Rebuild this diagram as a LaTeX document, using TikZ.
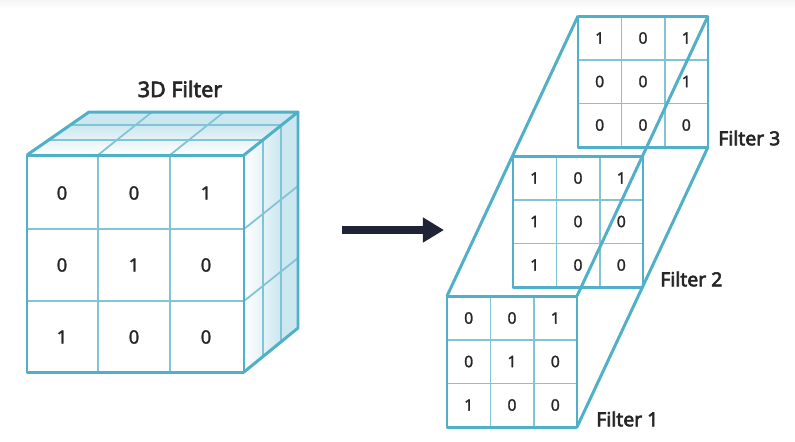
\documentclass[tikz,border=0pt]{standalone}
\usepackage{fontspec}
\setmainfont{Noto Sans}
\newfontfamily\labelfont[RawFeature={embolden=3}]{Noto Sans}
\newfontfamily\digitfont[RawFeature={embolden=1.5}]{Noto Sans}
\usetikzlibrary{arrows.meta}
\definecolor{C0}{RGB}{ 80,176,199}
\definecolor{C1}{RGB}{128,196,213}
\definecolor{C2}{RGB}{204,231,240}
\definecolor{C3}{RGB}{ 32, 35, 54}

\tikzset{
    outerline/.style={C0, line width=1.7pt, line join=round},
    innerline/.style={C1, line width=1pt},
    bigdigit/.style={font=\digitfont\fontsize{10.5}{12}\selectfont, text=black!85},
    smalldigit/.style={font=\digitfont\fontsize{9}{11}\selectfont, text=black!85},
    filterlabel/.style={font=\labelfont\fontsize{11}{13}\selectfont, text=black!85, anchor=west, inner sep=0pt}
}

%% one flat filter: name, left, top, nine digits
\newcommand{\filterbox}[4]{
    \coordinate (#1TL) at (#2, #3);
    \coordinate (#1TR) at (#2+130, #3);
    \coordinate (#1BR) at (#2+130, #3+131);
    \foreach \k in {1,2} {
        \draw[innerline] (#2+43.5*\k, #3) -- (#2+43.5*\k, #3+131);
        \draw[innerline] (#2, #3+43.7*\k) -- (#2+130, #3+43.7*\k);
    }
    \draw[outerline] (#2, #3) rectangle (#2+130, #3+131);
    \foreach \val [count=\n from 0] in {#4} {
        \pgfmathsetmacro{\cx}{#2+21.7+43.3*mod(\n,3)}
        \pgfmathsetmacro{\cy}{#3+22+43.5*int(\n/3)}
        \node[smalldigit] (#1d\n) at (\cx, \cy) {\val};
    }
}

\begin{document}
\begin{tikzpicture}[x=0.02cm, y=-0.02cm]
    \useasboundingbox (0, 0) rectangle (795, 441);

    %% faint band along the top edge
    \shade[top color=black!4, bottom color=white] (0, 0) rectangle (795, 9);

    %% --- Cube: shaded faces ---
    \shade[top color=C2, bottom color=white] (27, 155) -- (71, 125) -- (281, 125) -- (244, 155) -- cycle;
    \fill[C2] (71, 125) -- (89, 112) -- (298, 112) -- (281, 125) -- cycle;
    \shade[left color=white, right color=C2] (244, 155) -- (281, 125) -- (281, 342) -- (244, 372) -- cycle;
    \fill[C2] (281, 125) -- (298, 112) -- (298, 328) -- (281, 342) -- cycle;

    %% Grid on the top face
    \draw[innerline] (50, 140) -- (263, 140);
    \draw[innerline] (71, 125) -- (281, 125);
    \draw[innerline] (98, 155) -- (152, 112);
    \draw[innerline] (170, 155) -- (224, 112);

    %% Grid on the side face
    \draw[innerline] (263, 140) -- (263, 356);
    \draw[innerline] (281, 125) -- (281, 342);
    \draw[innerline] (244, 229) -- (298, 186);
    \draw[innerline] (244, 301) -- (298, 258);

    %% Grid on the front face
    \draw[innerline] (98, 155) -- (98, 372);
    \draw[innerline] (170, 155) -- (170, 372);
    \draw[innerline] (27, 229) -- (244, 229);
    \draw[innerline] (27, 301) -- (244, 301);

    %% Cube outline
    \draw[outerline] (27, 155) rectangle (244, 372);
    \draw[outerline] (27, 155) -- (89, 112) -- (298, 112) -- (244, 155);
    \draw[outerline] (298, 112) -- (298, 328) -- (244, 372);

    %% Cube digits
    \foreach \val [count=\n from 0] in {0,0,1,0,1,0,1,0,0} {
        \pgfmathsetmacro{\cx}{62+72*mod(\n,3)}
        \pgfmathsetmacro{\cy}{193+72*int(\n/3)}
        \node[bigdigit] (cube\n) at (\cx, \cy) {\val};
    }

    \node[font=\labelfont\fontsize{12.2}{14}\selectfont, text=black!85] (cubetitle) at (180, 89) {3D Filter};

    %% --- Arrow ---
    \coordinate (arrowA) at (342, 230);
    \coordinate (arrowB) at (444, 230);
    \draw[C3, line width=4.8pt, -{Stealth[length=12pt, width=13.5pt, inset=0pt]}] (arrowA) -- (arrowB);

    %% --- Three flat filters, back to front ---
    \filterbox{third}{578}{16}{1,0,1,0,0,1,0,0,0}
    \filterbox{second}{513}{156}{1,0,1,1,0,0,1,0,0}
    \filterbox{first}{447}{296}{0,0,1,0,1,0,1,0,0}

    %% Lines that join the filters
    \draw[outerline] (firstTL) -- (thirdTL);
    \draw[outerline] (firstTR) -- (thirdTR);
    \draw[outerline] (firstBR) -- (thirdBR);

    \node[filterlabel] (labelthird) at (718, 138) {Filter 3};
    \node[filterlabel] (labelsecond) at (660, 279) {Filter 2};
    \node[filterlabel] (labelfirst) at (596, 419) {Filter 1};

\end{tikzpicture}
\end{document}
